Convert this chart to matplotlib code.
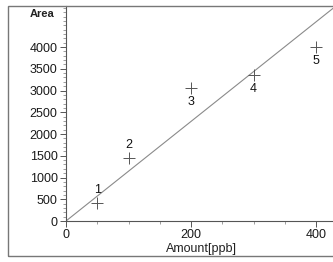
import numpy as np
import matplotlib.pyplot as plt
from matplotlib.patches import Rectangle
from matplotlib.ticker import MultipleLocator

# calibration points
amount = [50, 100, 200, 300, 400]
area = [420, 1450, 3060, 3350, 3990]
point_names = ['1', '2', '3', '4', '5']
label_above = [True, True, False, False, False]
slope = 11.45  # fitted line through origin

plt.rcParams['font.family'] = ['Liberation Sans', 'DejaVu Sans']

fig = plt.figure(figsize=(3.33, 2.62), dpi=100)
# outer frame, right side runs off the picture
fig.patches.append(Rectangle((8 / 333, 6 / 262), 340 / 333, 250 / 262,
                             transform=fig.transFigure, fill=False,
                             edgecolor='#777777', linewidth=1.0))

ax = fig.add_axes([66 / 333, 41 / 262, 267 / 333, 215 / 262])
ax.set_xlim(0, 427)
ax.set_ylim(0, 4943)

xs = np.array([0, 440])
ax.plot(xs, slope * xs, color='#8a8a8a', linewidth=0.8)
ax.plot(amount, area, linestyle='none', marker='+', markersize=8,
        markeredgewidth=0.7, color='#555555')
for x, y, name, above in zip(amount, area, point_names, label_above):
    dy = 9 if above else -10
    ax.annotate(name, (x, y), xytext=(0, dy), textcoords='offset points',
                ha='center', va='center', fontsize=9, color='#111111')

for s in ['top', 'right']:
    ax.spines[s].set_visible(False)
for s in ['left', 'bottom']:
    ax.spines[s].set_color('#555555')
    ax.spines[s].set_linewidth(0.8)

ax.set_yticks(np.arange(0, 4001, 500))
ax.yaxis.set_minor_locator(MultipleLocator(100))
ax.set_xticks([0, 200, 400])
ax.xaxis.set_minor_locator(MultipleLocator(50))
ax.tick_params(which='major', length=4, width=0.7, color='#555555',
               labelsize=9, labelcolor='#1a1a1a', pad=2)
ax.tick_params(which='minor', direction='out', length=2.5, width=0.5,
               color='#777777')

fig.text(42 / 333, 1 - 14 / 262, 'Area', ha='center', va='center',
         fontsize=8, fontweight='bold', color='#222222')
fig.text(201 / 333, 1 - 249 / 262, 'Amount[ppb]', ha='center', va='center',
         fontsize=9, color='#222222')

fig.savefig('out.png', dpi=100)
